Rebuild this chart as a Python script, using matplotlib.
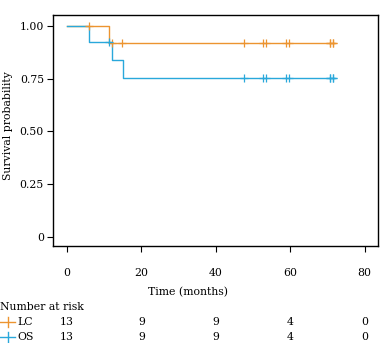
import numpy as np
import matplotlib
matplotlib.use("Agg")
import matplotlib.pyplot as plt
from matplotlib.transforms import blended_transform_factory

# ---- data ----
lc_step_t = [0, 11.3]
lc_step_s = [1.0, 0.917]
lc_end = 72
lc_censor = [5.9, 12.1, 14.8, 47.6, 52.7, 53.5, 58.9, 59.7, 70.7, 70.7, 71.5, 71.5]

os_step_t = [0, 5.9, 12.1, 15.1]
os_step_s = [1.0, 0.923, 0.839, 0.755]
os_end = 72
os_censor = [11.3, 47.6, 52.7, 53.5, 58.9, 59.7, 70.7, 70.7, 71.5, 71.5]

risk_times = [0, 20, 40, 60, 80]
lc_risk = [13, 9, 9, 4, 0]
os_risk = [13, 9, 9, 4, 0]

x_ticks = [0, 20, 40, 60, 80]
y_ticks = [0, 0.25, 0.5, 0.75, 1.0]
y_ticklabels = ["0", "0.25", "0.50", "0.75", "1.00"]

c_lc = "#EC9430"
c_os = "#29A8DB"

plt.rcParams['font.family'] = ['DejaVu Serif']
FS = 7.8

W, H = 380, 343
fig = plt.figure(figsize=(W / 100, H / 100), dpi=100)
ax = fig.add_axes([53 / W, 1 - 246 / H, 325 / W, 231 / H])

def curve(ts, ss, end):
    x = list(ts) + [end]
    y = list(ss) + [ss[-1]]
    return x, y

def surv_at(ts, ss, t):
    idx = np.searchsorted(ts, t, side='right') - 1
    return np.array(ss)[idx]

x, y = curve(lc_step_t, lc_step_s, lc_end)
ax.step(x, y, where='post', color=c_lc, lw=1.0, zorder=2)
x, y = curve(os_step_t, os_step_s, os_end)
ax.step(x, y, where='post', color=c_os, lw=1.0, zorder=3)

ax.plot(lc_censor, surv_at(lc_step_t, lc_step_s, lc_censor), ls='none',
        marker='+', ms=6.3, mew=0.9, color=c_lc, zorder=4)
ax.plot(os_censor, surv_at(os_step_t, os_step_s, os_censor), ls='none',
        marker='+', ms=6.3, mew=0.9, color=c_os, zorder=4)

ax.set_xlim(-3.76, 83.6)
ax.set_ylim(-0.043, 1.052)
ax.set_xticks(x_ticks)
ax.set_yticks(y_ticks)
ax.set_yticklabels(y_ticklabels)
ax.tick_params(axis='x', direction='out', length=4.5, width=0.8, pad=11.5, labelsize=FS)
ax.tick_params(axis='y', direction='out', length=4, width=0.8, pad=2.5, labelsize=FS)
for s in ax.spines.values():
    s.set_linewidth(1.0)

fig.text(8 / W, 1 - 126 / H, "Survival probability", rotation=90,
         ha='center', va='center', fontsize=FS)
fig.text(188 / W, 1 - 292 / H, "Time (months)", ha='center', va='center', fontsize=FS)

# risk table
tr = blended_transform_factory(ax.transData, fig.transFigure)
fig.text(0, 1 - 307 / H, "Number at risk", ha='left', va='center', fontsize=FS)
rows = [("LC", lc_risk, c_lc, 322), ("OS", os_risk, c_os, 337)]
for name, vals, col, ypx in rows:
    yf = 1 - ypx / H
    fig.add_artist(plt.Line2D([0, 15 / W], [yf, yf], color=col, lw=1.0,
                              transform=fig.transFigure))
    fig.add_artist(plt.Line2D([7.5 / W, 7.5 / W], [yf - 5 / H, yf + 5 / H], color=col,
                              lw=1.0, transform=fig.transFigure))
    fig.text(17 / W, yf, name, ha='left', va='center', fontsize=FS)
    for t, v in zip(risk_times, vals):
        fig.text(t, yf, str(v), ha='center', va='center', fontsize=FS, transform=tr)

fig.savefig("out.png", dpi=100)
